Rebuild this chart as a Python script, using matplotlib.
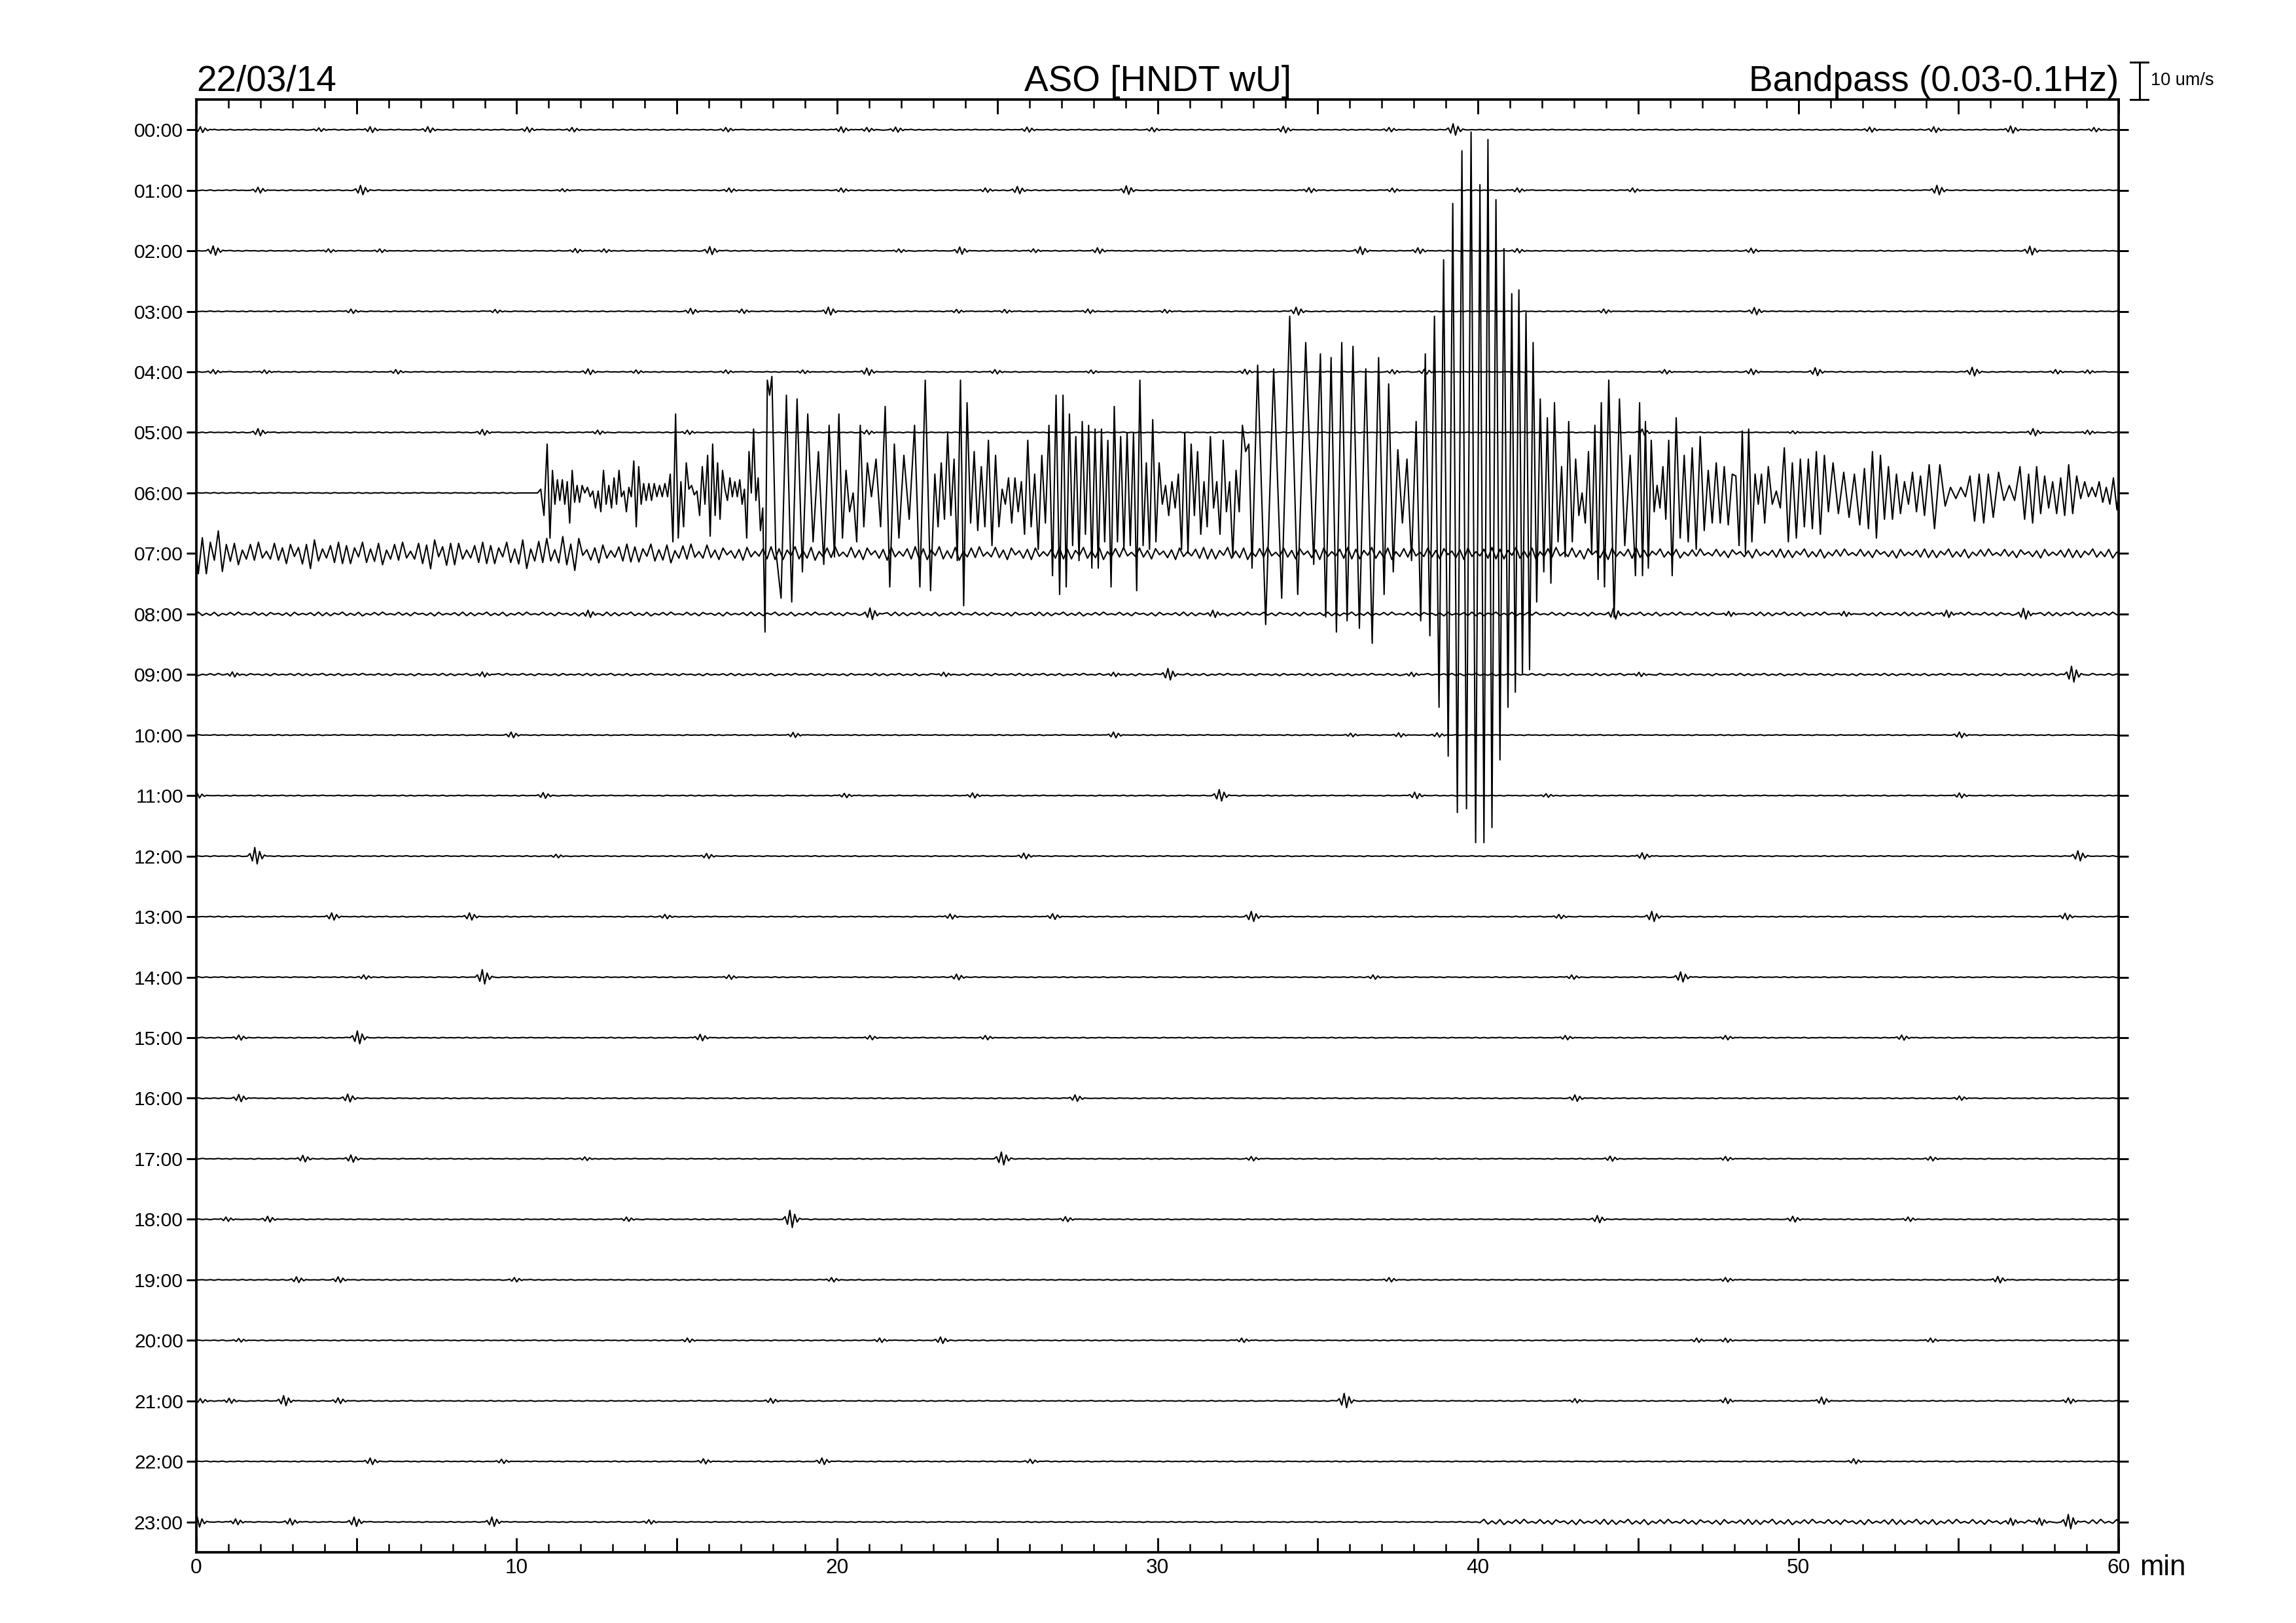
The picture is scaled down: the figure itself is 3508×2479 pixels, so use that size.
import matplotlib
matplotlib.use('Agg')
import matplotlib.pyplot as plt
from matplotlib.ticker import MultipleLocator, FuncFormatter

plt.rcParams['font.family'] = ['Liberation Sans Narrow', 'Liberation Sans', 'DejaVu Sans']

HOURS = ['%02d:00' % h for h in range(24)]
DATE_LABEL = '22/03/14'
STATION_LABEL = 'ASO [HNDT wU]'
FILTER_LABEL = 'Bandpass (0.03-0.1Hz)'
SCALE_LABEL = '10 um/s'
SCALE_VALUE = 10.0      # um/s shown by the scale bar
UMS_PER_ROW = 16.1      # um/s per row spacing

# shape of a small local wavelet (normalised)
WAVELET = [0.0, 0.3, -0.55, 1.0, -0.9, 0.55, -0.3, 0.12, 0.0]
WAVELET_STEP = 0.075    # min between wavelet points

# background ripple, 8 extrema per minute
NOISE_PATTERN = [0.7, -0.9, 0.5, -0.3, 1.0, -0.8, 0.4, -0.7, 0.9, -1.0, 0.3, -0.5,
                 0.8, -0.6, 1.0, -0.4, 0.2, -0.5, 0.9, -0.6, 0.5, -0.9, 0.8, -0.2,
                 0.4, -0.7, 0.6, -1.0, 0.9, -0.5, 0.3, -0.4, 0.7, -0.8, 1.0, -0.9]
BASE_NOISE = 0.12
# (row, start min, end min, level um/s)
NOISE_SEGMENTS = [
    (7, 0, 1, 6.0), (7, 1, 3, 3.0), (7, 3, 4, 4.0), (7, 4, 7, 3.0), (7, 7, 8, 4.5),
    (7, 8, 10, 3.0), (7, 10, 11, 4.0), (7, 11, 12, 5.0), (7, 12, 16, 2.5),
    (7, 16, 26, 1.8), (7, 26, 45, 1.6), (7, 45, 60, 1.2),
    (8, 0, 60, 0.5), (9, 0, 60, 0.3), (23, 40, 60, 0.7),
]

# small events per row: (minute, amplitude um/s)
BLIPS = {
    0: [(0.2, 0.8), (3.9, 0.5), (5.5, 0.8), (7.3, 0.8), (10.4, 0.7), (11.8, 0.6), (16.6, 0.6),
        (20.2, 0.8), (21.0, 0.6), (21.9, 0.7), (26.0, 0.7), (29.9, 0.6), (34.0, 0.9), (37.3, 0.6),
        (39.3, 1.6), (52.3, 0.7), (54.3, 0.8), (56.7, 1.0), (59.3, 0.6)],
    1: [(2.0, 0.8), (5.2, 1.3), (11.5, 0.4), (16.7, 0.6), (20.2, 0.6), (24.7, 0.6), (25.7, 1.0),
        (29.1, 1.2), (34.8, 0.7), (37.4, 0.6), (41.3, 0.6), (44.9, 0.6), (54.4, 1.3)],
    2: [(0.6, 1.3), (4.2, 0.5), (5.8, 0.5), (11.9, 0.6), (12.8, 0.5), (16.1, 1.1), (22.0, 0.5),
        (23.9, 1.0), (26.2, 0.5), (28.2, 0.8), (36.4, 1.1), (38.2, 0.8), (41.3, 0.6), (48.6, 0.7),
        (57.3, 1.2)],
    3: [(4.9, 0.6), (9.4, 0.5), (15.5, 0.8), (17.1, 0.6), (19.8, 1.1), (23.8, 0.5), (25.3, 0.5),
        (27.9, 0.6), (30.3, 0.5), (34.4, 1.1), (44.0, 0.6), (48.7, 1.0)],
    4: [(0.6, 0.6), (2.2, 0.5), (6.3, 0.6), (12.3, 0.8), (13.8, 0.5), (16.6, 0.5), (19.0, 0.5),
        (21.0, 1.0), (25.0, 0.6), (28.0, 0.5), (32.8, 0.7), (37.4, 0.6), (38.4, 0.7), (45.9, 0.6),
        (48.6, 0.8), (50.6, 1.1), (55.5, 1.2), (58.1, 0.6), (59.1, 0.5)],
    5: [(2.0, 1.0), (9.0, 0.8), (12.6, 0.6), (15.4, 0.6), (21.0, 0.6), (45.2, 0.9), (49.9, 0.4),
        (57.4, 1.0), (59.1, 0.6)],
    8: [(12.3, 1.0), (21.1, 1.6), (31.8, 1.0), (44.3, 1.5), (47.9, 0.7), (51.5, 0.7), (54.7, 1.0),
        (57.1, 1.5)],
    9: [(1.2, 0.7), (9.0, 0.7), (23.4, 0.6), (28.7, 0.6), (30.4, 1.6), (38.0, 0.6), (45.1, 0.6),
        (58.6, 2.2)],
    10: [(9.9, 0.8), (18.7, 0.7), (28.7, 0.8), (36.1, 0.5), (37.6, 0.6), (38.8, 0.6), (55.1, 0.8)],
    11: [(0.1, 0.7), (10.9, 0.8), (20.3, 0.6), (24.3, 0.7), (32.0, 1.6), (38.1, 0.9), (42.2, 0.5),
         (55.1, 0.7)],
    12: [(1.9, 2.3), (11.3, 0.5), (16.0, 0.7), (25.9, 0.8), (45.2, 0.9), (58.8, 1.4)],
    13: [(4.3, 1.0), (8.6, 1.0), (14.7, 0.6), (23.6, 0.7), (26.8, 0.8), (33.0, 1.4), (42.6, 0.6),
         (45.5, 1.4), (58.4, 0.9)],
    14: [(5.3, 0.6), (9.0, 2.0), (16.7, 0.6), (23.8, 0.8), (36.8, 0.6), (43.0, 0.6), (46.4, 1.4)],
    15: [(1.4, 0.7), (5.1, 1.8), (15.8, 0.9), (21.1, 0.6), (24.7, 0.6), (42.8, 0.6), (47.8, 0.6),
         (53.3, 0.7)],
    16: [(1.4, 1.0), (4.8, 1.1), (27.5, 0.9), (43.1, 0.9), (55.1, 0.6)],
    17: [(3.4, 0.9), (4.9, 1.0), (12.2, 0.5), (25.2, 1.8), (33.0, 0.6), (44.2, 0.7), (47.8, 0.6),
         (54.2, 0.6)],
    18: [(1.0, 0.6), (2.3, 0.8), (13.5, 0.6), (18.6, 2.4), (27.2, 0.7), (43.8, 1.0), (49.9, 0.8),
         (53.5, 0.6)],
    19: [(3.2, 0.8), (4.5, 0.8), (10.0, 0.6), (19.9, 0.6), (37.3, 0.6), (47.8, 0.6), (56.3, 0.9)],
    20: [(1.4, 0.5), (15.4, 0.6), (21.4, 0.6), (23.3, 0.9), (32.7, 0.6), (46.9, 0.6), (47.8, 0.6),
         (54.2, 0.6)],
    21: [(0.2, 0.6), (1.1, 0.7), (2.8, 1.4), (4.5, 0.8), (18.0, 0.7), (35.9, 2.0), (43.1, 0.6),
         (47.8, 0.8), (50.8, 1.0), (58.5, 0.8)],
    22: [(5.5, 0.9), (9.6, 0.6), (15.9, 0.7), (19.6, 0.9), (26.1, 0.6), (51.8, 0.7)],
    23: [(0.1, 1.5), (1.3, 0.8), (3.0, 0.9), (5.0, 1.3), (9.3, 1.3), (14.2, 0.6), (56.7, 1.0),
         (57.6, 1.0), (58.5, 2.0)],
}

# main event on the 06:00 line: extrema (um/s) per minute, evenly spread inside the minute
EVENT_ROW = 6
EVENT_06 = {
    10: [0, 0, 0, 0, 0, 0, 0, 1, -6, 13],
    11: [-12, 6, -3, 3.5, -2, 3.5, -3, 3, -8, 6, -2.5, 2, -2.5],
    12: [2, 0, 1.5, -1, 0.5, -4, 0.5, -5, 6, -3, 2, -4],
    13: [4, -3, 6, -1, 0.5, -5, 1.5, -1, 8.5, -9, 7, -3, 2.5],
    14: [-2, 2.5, -2, 2.5, -1, 2, -1, 2.5, -1, 5, -13, 21],
    15: [-12, 3, -9, 8, 1, 2, -0.5, 0.5, -6, 7, -3, 10],
    16: [-11.5, 13, -6, 8, -7, 6, 1, -2, 4, -1, 3, -1, 3.5],
    17: [-3, 1, -12, 11, 0, 17, -2, 4, -10, -4, -37, 30, 26, 31],
    18: [-15, -28, 26, -29, 25, -21],
    19: [21, -13, 11, -19, 18, -17],
    20: [21, -12, 6, -5, 0, -13, 18, -9, 8],
    21: [-1, 9, -9, 23, -25, 13, -12],
    22: [10, -7, 18, -25, 30, -26],
    23: [5, -9, 8, -7, 16, -6, 9, -18, 30, -30],
    24: [24, -8, 11, -10, 7, -9, 14, -14, 10],
    25: [-9, 1, -3, 4, -8, 4, -5, 3, -11, 14],
    26: [-9, 5, -15, 10, -8, 18, -22, 26, -27],
    27: [26, -25, 21, -14, 15, -18, 19, -11, 18, -20],
    28: [17, -20, 17, -13, 14, -25, 23, -13, 15, -15],
    29: [16, -14, 16, -26, 30, -14, 8, -15, 19.5, -13],
    30: [8, -3, 2, -6, 3, -4, 5, -15, 16, -16],
    31: [13, -6, 11, -11, 3, -9, 15, -4, 3, -11],
    32: [14, -5, 3, -17, 6, -5, 18, 11, 13, -20],
    33: [34, -35, 33, -28],
    34: [47, -27, 40, -19],
    35: [37, -33, 36, -37, 40, -34],
    36: [39, -36, 33, -40, 36],
    37: [-27, 29, -21, 11.5, -8, 9, -18],
    38: [19, -34, 37, -38, 47, -57, 62],
    39: [-70, 77, -85, 91, -84, 96, -93],
    40: [82, -93, 94, -89, 78, -71, 65, -57],
    41: [53, -53, 54, -48, 48, -47, 40, -29, 25],
    42: [-21, 20, -24, 24, -13, 7, -17, 19, -13],
    43: [9, -6, 0, -8, 11, -16, 18, -23, 24, -25],
    44: [30, -33, 25, -14, 10, -22],
    45: [24, -22, 19, -20, 14, -5, 2, -4, 7, -7, 14],
    46: [-22, 20, -12, 10, -13, 12, -15, 15],
    47: [-10, 6, -8, 8, -8, 7, -8.5, 5],
    48: [4.5, -14, 16.5, -16, 17, -13, 5, -3, 5, -8],
    49: [7, -3, 0.5, -4, 12, -13, 8, -12],
    50: [9, -9, 9, -9.5, 11, -11, 10, -5],
    51: [8, -5.5, 5.5, -6.5, 5, -8.5],
    52: [6.5, -9.5, 11, -12, 10, -7, 7, -7],
    53: [5, -5.5, 3, -3, 5.5, -5, 4.5, -6],
    54: [7.5, -9.5, 7.5, -3.5, 1.5, -1.5],
    55: [1.5, -1, 4.5, -7.5, 5, -8, 5],
    56: [-6.5, 5.5, -2, 2, -2, 7],
    57: [-7, 5, -8, 7, -5.5, 4.5, -4, 3],
    58: [-5.5, 4, -6, 7.5, -5.5, 4.5, -1.5, 3],
    59: [-1, 1.5, -1, 3, -2.5, 1.5, -3, 4, -4.5],
}


def build_trace(row):
    blips = BLIPS.get(row, [])
    half = WAVELET_STEP * (len(WAVELET) - 1) / 2
    windows = [(t - half - 0.04, t + half + 0.04) for t, a in blips]
    ev_start = min(EVENT_06) if row == EVENT_ROW else 99
    pts = [(0.0, 0.0)]
    for m in range(60):
        lvl = BASE_NOISE
        for r, s, e, l in NOISE_SEGMENTS:
            if r == row and s <= m < e:
                lvl = l
        for i in range(8):
            t = m + (i + 0.5) / 8
            if t >= ev_start or any(a <= t <= b for a, b in windows):
                continue
            pts.append((t, lvl * NOISE_PATTERN[(8 * m + i + 5 * row) % len(NOISE_PATTERN)]))
    for t0, amp in blips:
        for k, w in enumerate(WAVELET):
            pts.append((t0 - half + k * WAVELET_STEP, amp * w))
    if row == EVENT_ROW:
        for m, vals in EVENT_06.items():
            for i, v in enumerate(vals):
                pts.append((m + (i + 0.5) / len(vals), v))
    pts.append((60.0, 0.0))
    pts.sort()
    ts = [p[0] for p in pts]
    ys = [-row + p[1] / UMS_PER_ROW for p in pts]
    return ts, ys


fig = plt.figure(figsize=(3508 / 300, 2479 / 300), dpi=300)
ax = fig.add_axes([0.0855, 0.0436, 0.8373, 0.8951])

for r in range(len(HOURS)):
    ts, ys = build_trace(r)
    ax.plot(ts, ys, color='black', lw=0.5, solid_joinstyle='round')

ax.set_xlim(0, 60)
ax.set_ylim(-23.5, 0.5)

ax.set_yticks([-r for r in range(len(HOURS))])
ax.set_yticklabels(HOURS)
ax.tick_params(axis='y', which='major', direction='out', length=3.6, width=0.7,
               labelsize=7.2, pad=1.2, left=True, right=True)

ax.xaxis.set_major_locator(MultipleLocator(5))
ax.xaxis.set_minor_locator(MultipleLocator(1))
ax.xaxis.set_major_formatter(FuncFormatter(lambda x, p: '%d' % x if round(x) % 10 == 0 else ''))
ax.tick_params(axis='x', which='major', direction='in', length=5.2, width=0.7,
               labelsize=7.6, pad=2.2, top=True, bottom=True)
ax.tick_params(axis='x', which='minor', direction='in', length=3.2, width=0.6,
               top=True, bottom=True)

for sp in ax.spines.values():
    sp.set_linewidth(0.9)

# header texts
ax.text(0.0, 1.006, DATE_LABEL, transform=ax.transAxes, ha='left', va='baseline', fontsize=13.2)
ax.text(0.5, 1.006, STATION_LABEL, transform=ax.transAxes, ha='center', va='baseline', fontsize=13.2)
ax.text(1.0, 1.006, FILTER_LABEL, transform=ax.transAxes, ha='right', va='baseline', fontsize=13.2)
ax.text(1.011, -0.016, 'min', transform=ax.transAxes, ha='left', va='baseline', fontsize=10.5)

# amplitude scale bar
bar_x = 60.64
y0 = 0.5
y1 = 0.5 + SCALE_VALUE / UMS_PER_ROW
ax.plot([bar_x, bar_x], [y0, y1], color='black', lw=0.7, clip_on=False)
ax.plot([bar_x - 0.27, bar_x + 0.27], [y0, y0], color='black', lw=0.7, clip_on=False)
ax.plot([bar_x - 0.27, bar_x + 0.27], [y1, y1], color='black', lw=0.7, clip_on=False)
ax.text(61.0, (y0 + y1) / 2, SCALE_LABEL, ha='left', va='center', fontsize=6.5)

fig.savefig('out.png', dpi=300)
